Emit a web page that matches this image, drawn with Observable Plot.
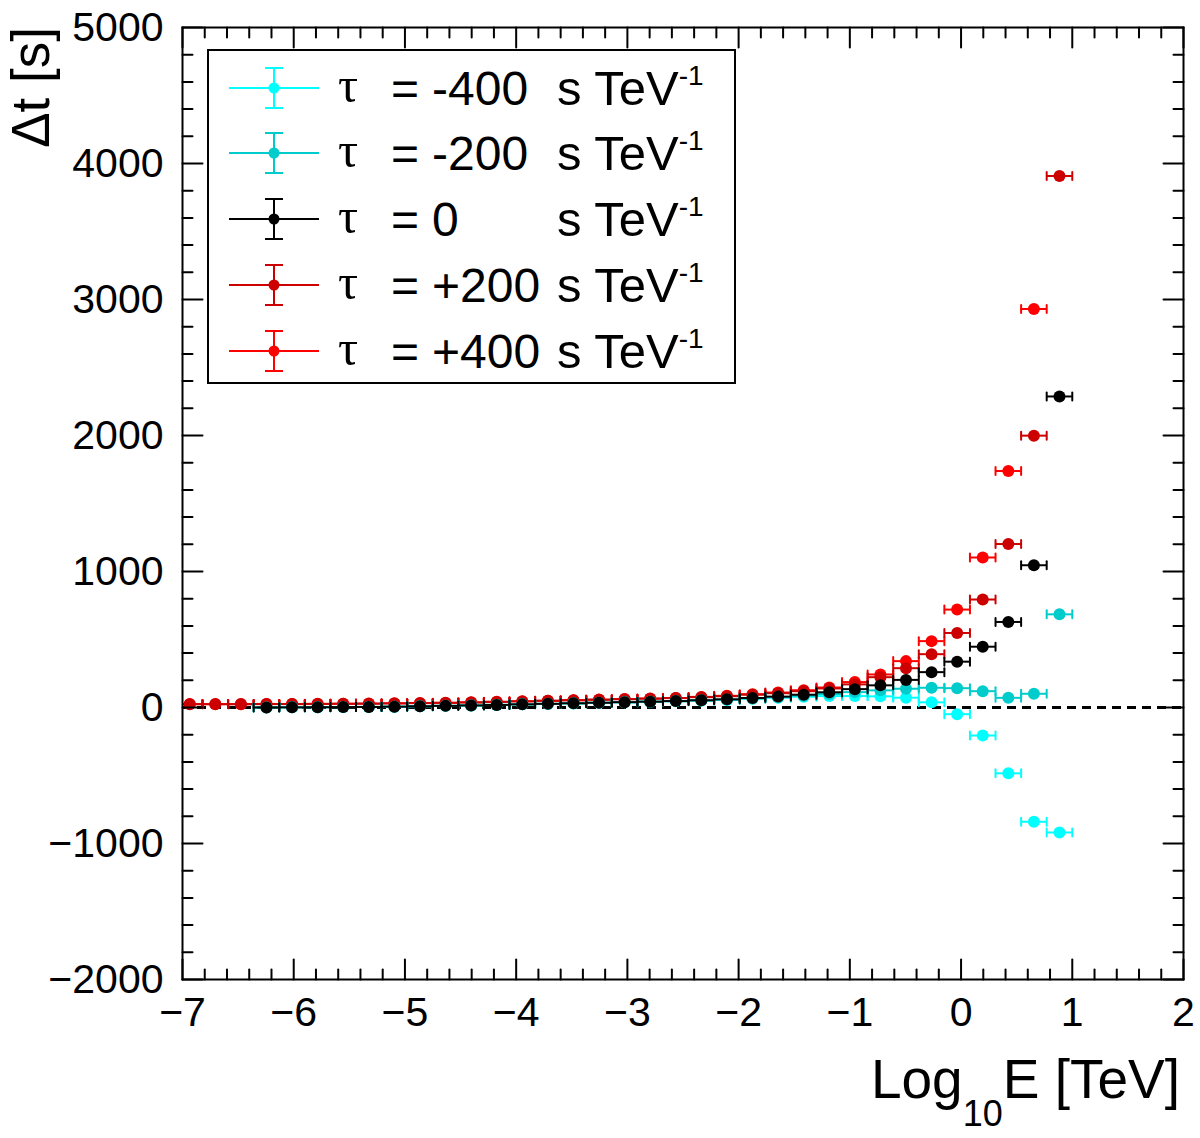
<!DOCTYPE html>
<html>
<head>
<meta charset="utf-8">
<script src="https://cdn.jsdelivr.net/npm/d3@7"></script>
<script src="https://cdn.jsdelivr.net/npm/@observablehq/plot@0.6"></script>
<style>
  body { margin: 0; background: white; }
</style>
</head>
<body>
<div id="chart"></div>
<script>
// bin centres in log10(E / TeV)
const logE = [-6.935, -6.705, -6.475, -6.245, -6.015, -5.785, -5.555, -5.325, -5.095, -4.865,
  -4.635, -4.405, -4.175, -3.945, -3.715, -3.485, -3.255, -3.025, -2.795, -2.565,
  -2.335, -2.105, -1.875, -1.645, -1.415, -1.185, -0.955, -0.725, -0.495, -0.265,
  -0.035, 0.195, 0.425, 0.655, 0.885];
const binHalf = 0.115;

// delta t [s] per bin, null = no point
const tauM400 = [null, null, null, 0, 1, 2, 3, 4, 6, 9, 12, 15, 19, 23, 26, 30, 34, 38, 42, 46,
  51, 56, 64, 72, 79, 84, 84, 82, 72, 38, -49, -206, -484, -840, -919];
const tauM200 = [null, null, null, 0, 1, 2, 3, 4, 6, 9, 12, 15, 19, 23, 27, 31, 35, 39, 43, 47,
  52, 58, 67, 76, 86, 99, 113, 126, 138, 145, 142, 120, 71, 101, 685];
const tau0 = [null, null, null, 0, 1, 2, 3, 4, 6, 9, 12, 15, 19, 23, 27, 31, 35, 39, 43, 47,
  53, 60, 70, 80, 94, 112, 135, 163, 203, 260, 337, 447, 629, 1046, 2287];
const tauP200 = [24, 24, 24, 25, 25, 26, 27, 28, 30, 32, 34, 37, 41, 45, 49, 53, 57, 61, 65, 69,
  76, 83, 94, 105, 120, 140, 170, 223, 289, 392, 548, 794, 1202, 1999, 3908];
const tauP400 = [25, 25, 25, 26, 26, 27, 28, 29, 31, 33, 35, 38, 42, 46, 50, 54, 58, 62, 66, 70,
  78, 86, 98, 110, 127, 147, 187, 243, 341, 488, 720, 1103, 1739, 2930, null];

const seriesNames = ["-400", "-200", "0", "+200", "+400"];
const seriesValues = [tauM400, tauM200, tau0, tauP200, tauP400];
const seriesColors = ["#00ffff", "#00cccc", "#000000", "#cc0000", "#ff0000"];
const drawOrder = [4, 3, 0, 1, 2];

const xMajor = [-7, -6, -5, -4, -3, -2, -1, 0, 1, 2];
const yMajor = [-2000, -1000, 0, 1000, 2000, 3000, 4000, 5000];
const xMinor = d3.range(-7, 2.001, 0.2).map(v => +v.toFixed(1)).filter(v => !xMajor.includes(v));
const yMinor = d3.range(-2000, 5001, 200).filter(v => !yMajor.includes(v));

const line = {draw(context, l) { context.moveTo(0, 0); context.lineTo(0, -l); }};
const fmt = d => d < 0 ? "\u2212" + Math.abs(d) : String(d);

function seriesMarks(i) {
  const rows = logE.map((x, k) => ({x, y: seriesValues[i][k]})).filter(d => d.y != null);
  const c = seriesColors[i];
  return [
    Plot.ruleY(rows, {y: "y", x1: d => d.x - binHalf, x2: d => d.x + binHalf, stroke: c, strokeWidth: 2, clip: true}),
    Plot.vector(rows, {x: d => d.x - binHalf, y: "y", length: 8, anchor: "middle", shape: line, stroke: c, strokeWidth: 2, clip: true}),
    Plot.vector(rows, {x: d => d.x + binHalf, y: "y", length: 8, anchor: "middle", shape: line, stroke: c, strokeWidth: 2, clip: true}),
    Plot.dot(rows, {x: "x", y: "y", r: 6, fill: c})
  ];
}

function tickMarks(vals, len) {
  return [
    Plot.vector(vals.y, {x: -7, y: d => d, length: len, rotate: 90, anchor: "start", shape: line, stroke: "black", strokeWidth: 2}),
    Plot.vector(vals.y, {x: 2, y: d => d, length: len, rotate: -90, anchor: "start", shape: line, stroke: "black", strokeWidth: 2}),
    Plot.vector(vals.x, {x: d => d, y: -2000, length: len, rotate: 0, anchor: "start", shape: line, stroke: "black", strokeWidth: 2}),
    Plot.vector(vals.x, {x: d => d, y: 5000, length: len, rotate: 180, anchor: "start", shape: line, stroke: "black", strokeWidth: 2})
  ];
}

const chart = Plot.plot({
  width: 1200,
  height: 1138,
  marginLeft: 182,
  marginRight: 17,
  marginTop: 27,
  marginBottom: 159,
  x: {domain: [-7, 2]},
  y: {domain: [-2000, 5000]},
  style: {fontFamily: "'Liberation Sans', Arial, sans-serif", fontSize: "41px", background: "white", overflow: "visible"},
  marks: [
    Plot.ruleY([0], {stroke: "black", strokeWidth: 3, strokeDasharray: "9,6"}),
    ...drawOrder.flatMap(seriesMarks),
    ...tickMarks({x: xMajor, y: yMajor}, 20),
    ...tickMarks({x: xMinor, y: yMinor}, 10),
    Plot.frame({stroke: "black", strokeWidth: 2}),
    Plot.axisX({ticks: xMajor, tickSize: 0, tickPadding: 17, tickFormat: fmt, label: null, fontSize: 41}),
    Plot.axisY({ticks: yMajor, tickSize: 0, tickPadding: 19, tickFormat: fmt, label: null, fontSize: 41})
  ]
});

const svg = d3.select(chart);
const font = "'Liberation Sans', Arial, sans-serif";

// axis titles
svg.append("text")
  .attr("transform", "translate(49,27) rotate(-90)")
  .attr("text-anchor", "end")
  .attr("font-family", font)
  .attr("font-size", 53)
  .text("\u0394t [s]");

const xt = svg.append("text")
  .attr("x", 1180).attr("y", 1098)
  .attr("text-anchor", "end")
  .attr("font-family", font)
  .attr("font-size", 55);
xt.append("tspan").text("Log");
xt.append("tspan").attr("font-size", 36).attr("dy", 28).text("10");
xt.append("tspan").attr("dy", -28).text("E [TeV]");

// legend
const lg = svg.append("g").attr("text-anchor", "start");
lg.append("rect").attr("x", 208).attr("y", 50).attr("width", 527).attr("height", 333)
  .attr("fill", "white").attr("stroke", "black").attr("stroke-width", 2);
const rowsY = [88, 153, 219, 285, 351];
seriesNames.forEach((name, i) => {
  const y = rowsY[i], c = seriesColors[i];
  const g = lg.append("g");
  g.append("line").attr("x1", 229).attr("x2", 319).attr("y1", y).attr("y2", y).attr("stroke", c).attr("stroke-width", 2);
  g.append("line").attr("x1", 274).attr("x2", 274).attr("y1", y - 20).attr("y2", y + 20).attr("stroke", c).attr("stroke-width", 2);
  g.append("line").attr("x1", 265).attr("x2", 283).attr("y1", y - 20).attr("y2", y - 20).attr("stroke", c).attr("stroke-width", 2);
  g.append("line").attr("x1", 265).attr("x2", 283).attr("y1", y + 20).attr("y2", y + 20).attr("stroke", c).attr("stroke-width", 2);
  g.append("circle").attr("cx", 274).attr("cy", y).attr("r", 5.5).attr("fill", c);
  g.append("text").attr("x", 338).attr("y", y + 14).attr("text-anchor", "start").attr("font-family", "'Liberation Serif', 'DejaVu Serif', serif").attr("font-size", 50).text("\u03c4");
  g.append("text").attr("x", 391).attr("y", y + 17).attr("text-anchor", "start").attr("font-family", font).attr("font-size", 48).text("=");
  g.append("text").attr("x", 432).attr("y", y + 17).attr("text-anchor", "start").attr("font-family", font).attr("font-size", 48).text(name);
  const u = g.append("text").attr("x", 557).attr("y", y + 17).attr("text-anchor", "start").attr("font-family", font).attr("font-size", 49);
  u.append("tspan").text("s TeV");
  u.append("tspan").attr("font-size", 28).attr("dy", -20).text("-1");
});

d3.select("#chart").append(() => chart);
</script>
</body>
</html>
